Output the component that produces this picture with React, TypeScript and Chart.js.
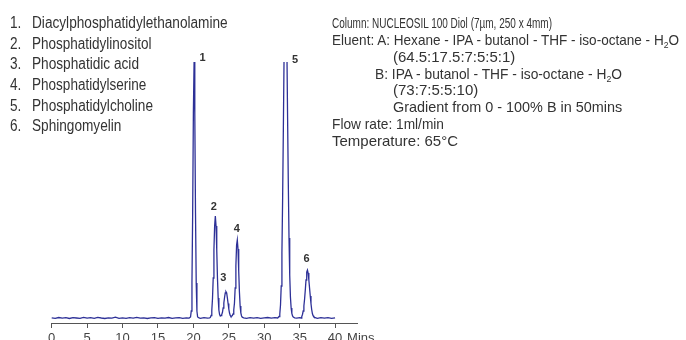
import React, { useEffect, useLayoutEffect, useRef } from "react";
import { Chart, registerables } from "chart.js";

Chart.register(...registerables);

// ---------- data ----------
const retentionTimes: number[] = [
  0, 0.5, 1, 1.5, 2, 2.5, 3, 3.5, 4, 4.5, 5, 5.5, 6, 6.5, 7, 7.5, 8, 8.5, 9, 9.5,
  10, 10.5, 11, 11.5, 12, 12.5, 13, 13.5, 14, 14.5, 15, 15.5, 16, 16.5, 17, 17.5, 18, 18.5, 19, 19.4,
  19.6, 19.7, 19.8, 19.9, 20.0, 20.1, 20.2, 20.3, 20.4, 20.5, 20.6, 20.8,
  21.0, 21.5, 22.0, 22.3,
  22.4, 22.5, 22.6, 22.7, 22.8, 22.9, 23.0, 23.1, 23.2, 23.3, 23.4, 23.5, 23.6, 23.7, 23.8, 23.9,
  24.0, 24.1, 24.2, 24.3, 24.4, 24.5, 24.6, 24.7, 24.8, 24.9, 25.0, 25.1, 25.2, 25.3, 25.4,
  25.5, 25.6, 25.7, 25.8, 25.9, 26.0, 26.1, 26.2, 26.3, 26.4, 26.5, 26.6, 26.7, 26.8, 26.9, 27.1,
  27.5, 28.0, 28.5, 29.0, 29.5, 30.0, 30.5, 31.0, 31.5, 31.9,
  32.1, 32.2, 32.3, 32.4, 32.5, 32.6, 32.7, 32.8, 32.9, 33.0, 33.1, 33.2, 33.3, 33.4, 33.5, 33.6, 33.7, 33.8, 33.9, 34.0, 34.1, 34.3,
  34.6, 35.0, 35.2,
  35.3, 35.4, 35.5, 35.6, 35.7, 35.8, 35.9, 36.0, 36.1, 36.2, 36.3, 36.4, 36.5, 36.6, 36.7, 36.8, 36.9, 37.0, 37.2,
  37.5, 38.0, 38.5, 39.0, 39.5, 40.0,
];

const detectorSignal: number[] = [
  5.2, 4.6, 5.5, 4.9, 5.3, 4.5, 5.4, 5.0, 4.6, 5.6, 4.8, 5.3, 4.7, 5.6, 5.0, 4.5, 5.2, 4.9, 5.8, 4.7,
  5.1, 4.6, 5.3, 4.9, 5.7, 4.8, 5.2, 4.5, 5.1, 5.4, 4.7, 5.2, 4.8, 5.5, 4.6, 5.1, 5.4, 4.7, 5.2, 4.9,
  6, 12, 40, 110, 210, 261, 210, 110, 40, 12, 6, 5.0,
  4.7, 5.4, 4.9, 5.2,
  5.6, 7.5, 12.5, 24.5, 45, 73, 97, 107, 97, 73, 45, 25, 13, 8.5, 7, 7.5,
  8.5, 10.5, 15, 20, 25.5, 30, 31.3, 30, 25, 19.5, 14, 10, 7.5, 6.5, 6.8,
  7.5, 9, 13, 20, 35, 57, 78, 83, 74, 52, 31, 17, 10, 7, 5.8, 5.2,
  4.7, 5.3, 4.8, 5.4, 4.6, 5.1, 5.5, 4.8, 5.3, 5.0,
  6.5, 9, 18, 37, 70, 125, 193, 265, 322, 345, 328, 275, 205, 140, 85, 48, 26, 15, 9.5, 7, 6, 5.2,
  4.8, 5.3, 5.0,
  6.5, 8.5, 12, 17, 24, 33, 43, 51, 53, 50, 43, 35, 27, 19.5, 13.5, 9.5, 7.3, 6.2, 5.3,
  4.7, 5.4, 4.9, 5.3, 4.6, 5.2,
];

const xTickValues: number[] = [0, 5, 10, 15, 20, 25, 30, 35, 40];
const xAxisUnit = "Mins";

const peakNumbers: string[] = ["1", "2", "3", "4", "5", "6"];
const peakLabelTimes: number[] = [21.3, 22.9, 24.23, 26.14, 34.35, 35.97];
const peakLabelLevels: number[] = [265, 116, 45.5, 94.5, 263.5, 64.5];

const compoundNames: string[] = [
  "Diacylphosphatidylethanolamine",
  "Phosphatidylinositol",
  "Phosphatidic acid",
  "Phosphatidylserine",
  "Phosphatidylcholine",
  "Sphingomyelin",
];

const conditionLines: string[] = [
  "Column: NUCLEOSIL 100 Diol (7µm, 250 x 4mm)",
  "Eluent: A: Hexane - IPA - butanol - THF - iso-octane - H_2O",
  "(64.5:17.5:7:5:5:1)",
  "B: IPA - butanol - THF - iso-octane - H_2O",
  "(73:7:5:5:10)",
  "Gradient from 0 - 100% B in 50mins",
  "Flow rate: 1ml/min",
  "Temperature: 65°C",
];

// ---------- layout / style ----------
const FONT = '"Liberation Sans", Arial, Helvetica, sans-serif';
const TEXT_COLOR = "#333";
const LINE_COLOR = "#2d3097";

const LIST_NUM_LEFT = 10;
const LIST_TEXT_LEFT = 32.3;
const LIST_TOP = 12.95;
const LIST_STEP = 20.7;
const listRightEdges = [228, 151.7, 139.3, 146.7, 153.3, 121.7];

const COND_TOP = 14.85;
const COND_STEP = 16.9;
const conditionLefts = [332, 332, 392.7, 375, 392.7, 392.7, 332, 332];
const conditionRights = [552, 679, 515, 622, 478, 622, 444, 458];

function renderWithSub(text: string) {
  const parts = text.split("_2");
  const out: React.ReactNode[] = [];
  parts.forEach((p, i) => {
    out.push(<span key={"p" + i}>{p}</span>);
    if (i < parts.length - 1)
      out.push(
        <span key={"s" + i} style={{ fontSize: 9.5, position: "relative", top: 3 }}>
          2
        </span>
      );
  });
  return out;
}

function FitLine(props: {
  left: number;
  right?: number;
  scale?: number;
  top: number;
  lineHeight: number;
  fontSize: number;
  children: React.ReactNode;
}) {
  const ref = useRef<HTMLSpanElement | null>(null);
  useLayoutEffect(() => {
    const el = ref.current;
    if (!el) return;
    el.style.transform = "none";
    const w = el.getBoundingClientRect().width;
    let k = props.scale ?? 1;
    if (props.right !== undefined && w > 0) k = (props.right - props.left) / w;
    el.style.transform = `scaleX(${k})`;
  }, []);
  return (
    <span
      ref={ref}
      style={{
        position: "absolute",
        left: props.left,
        top: props.top,
        height: props.lineHeight,
        lineHeight: props.lineHeight + "px",
        fontSize: props.fontSize,
        whiteSpace: "nowrap",
        display: "inline-block",
        transformOrigin: "0 0",
      }}
    >
      {props.children}
    </span>
  );
}

export default function App() {
  const canvasRef = useRef<HTMLCanvasElement | null>(null);

  useEffect(() => {
    const canvas = canvasRef.current;
    if (!canvas) return;

    const overlayPlugin = {
      id: "peakLabels",
      afterDraw(chart: any) {
        const { ctx } = chart;
        const xs = chart.scales.x;
        const ys = chart.scales.y;
        ctx.save();
        ctx.font = `bold 11px ${FONT}`;
        ctx.fillStyle = TEXT_COLOR;
        ctx.textAlign = "center";
        ctx.textBaseline = "middle";
        peakNumbers.forEach((n, i) => {
          ctx.fillText(n, xs.getPixelForValue(peakLabelTimes[i]), ys.getPixelForValue(peakLabelLevels[i]));
        });
        ctx.font = `13px ${FONT}`;
        ctx.fillStyle = "#444";
        ctx.textAlign = "left";
        ctx.textBaseline = "top";
        ctx.fillText(xAxisUnit, xs.getPixelForValue(xTickValues[xTickValues.length - 1]) + 12, xs.top + 9);
        ctx.restore();
      },
    };

    const chart = new Chart(canvas, {
      type: "line",
      data: {
        datasets: [
          {
            data: retentionTimes.map((t, i) => ({ x: t, y: detectorSignal[i] })),
            borderColor: LINE_COLOR,
            borderWidth: 1.3,
            pointRadius: 0,
            tension: 0,
            fill: false,
            clip: { left: 10, right: 10, top: 0, bottom: 10 } as any,
          },
        ],
      },
      options: {
        responsive: false,
        maintainAspectRatio: false,
        animation: false,
        layout: { padding: { left: 51.7, right: 328.7, top: 62, bottom: 0 } },
        plugins: {
          legend: { display: false },
          tooltip: { enabled: false },
          title: { display: false },
        },
        scales: {
          x: {
            type: "linear",
            min: 0,
            max: 43.14,
            afterBuildTicks: (s: any) => {
              s.ticks = xTickValues.map((v) => ({ value: v }));
            },
            afterFit: (s: any) => {
              s.height = 17;
            },
            border: { display: true, color: "#555", width: 1 },
            grid: {
              display: true,
              drawOnChartArea: false,
              drawTicks: true,
              tickLength: 5,
              color: "#555",
              lineWidth: 1,
            },
            ticks: {
              font: { family: FONT, size: 13 },
              color: "#444",
              padding: 3,
              maxRotation: 0,
              autoSkip: false,
            },
          },
          y: { display: false, min: 0, max: 261 },
        },
      },
      plugins: [overlayPlugin],
    });

    return () => chart.destroy();
  }, []);

  return (
    <div
      style={{
        position: "fixed",
        left: 0,
        top: 0,
        width: 686,
        height: 340,
        background: "#fff",
        overflow: "hidden",
        fontFamily: FONT,
        color: TEXT_COLOR,
      }}
    >
      <canvas ref={canvasRef} width={686} height={340} style={{ position: "absolute", left: 0, top: 0 }} />
      {compoundNames.map((name, i) => (
        <React.Fragment key={name}>
          <FitLine left={LIST_NUM_LEFT} scale={0.85} top={LIST_TOP + i * LIST_STEP} lineHeight={LIST_STEP} fontSize={16}>
            {i + 1 + "."}
          </FitLine>
          <FitLine
            left={LIST_TEXT_LEFT}
            right={listRightEdges[i]}
            top={LIST_TOP + i * LIST_STEP}
            lineHeight={LIST_STEP}
            fontSize={16}
          >
            {name}
          </FitLine>
        </React.Fragment>
      ))}
      {conditionLines.map((line, i) => (
        <FitLine
          key={i}
          left={conditionLefts[i]}
          right={conditionRights[i]}
          top={COND_TOP + i * COND_STEP}
          lineHeight={COND_STEP}
          fontSize={15}
        >
          {renderWithSub(line)}
        </FitLine>
      ))}
    </div>
  );
}
